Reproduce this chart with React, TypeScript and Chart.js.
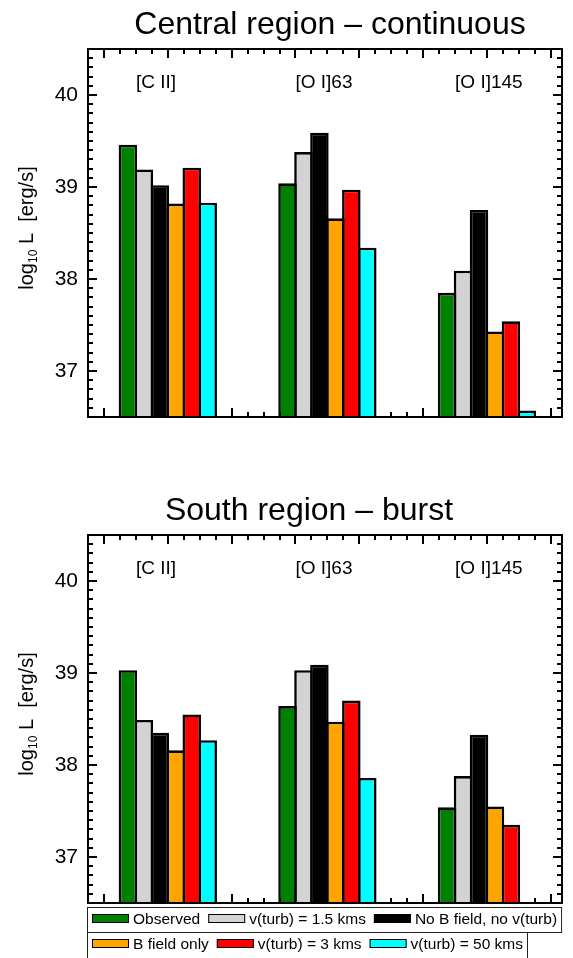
import React, { useEffect, useRef } from 'react';
import { Chart, registerables } from 'chart.js';

Chart.register(...registerables);

// ---------- data ----------
const categories = ['[C II]', '[O I]63', '[O I]145'];
const seriesLabels = [
  'Observed',
  'v(turb) = 1.5 kms',
  'No B field, no v(turb)',
  'B field only',
  'v(turb) = 3 kms',
  'v(turb) = 50 kms',
];
const seriesColors = ['#008000', '#d3d3d3', '#000000', '#ffa500', '#ff0000', '#00ffff'];

// Central region – continuous (log10 L)
const centralObserved = [39.46, 39.04, 37.85];
const centralTurb15 = [39.19, 39.38, 38.09];
const centralNoB = [39.02, 39.59, 38.75];
const centralBOnly = [38.82, 38.66, 37.43];
const centralTurb3 = [39.21, 38.97, 37.54];
const centralTurb50 = [38.83, 38.34, 36.57];

// South region – burst (log10 L)
const southObserved = [39.03, 38.64, 37.54];
const southTurb15 = [38.49, 39.03, 37.88];
const southNoB = [38.35, 39.09, 38.33];
const southBOnly = [38.16, 38.47, 37.55];
const southTurb3 = [38.55, 38.70, 37.35];
const southTurb50 = [38.27, 37.86, null];

const yTickValues = [37, 38, 39, 40];
const yMin = 36.5;
const yMax = 40.5;
const labelLevel = 40.08;

const centralTitle = 'Central region – continuous';
const southTitle = 'South region – burst';

const centralSeries = [centralObserved, centralTurb15, centralNoB, centralBOnly, centralTurb3, centralTurb50];
const southSeries = [southObserved, southTurb15, southNoB, southBOnly, southTurb3, southTurb50];

const FONT = '"Liberation Sans", Arial, Helvetica, sans-serif';

// ---------- plugin drawing the IDL-like frame, ticks, labels, title, legend ----------
const idlPlugin = {
  id: 'idlFrame',
  beforeDatasetsDraw(chart: any) {
    const { ctx, chartArea: a, scales } = chart;
    const x = scales.x;
    const y = scales.y;
    ctx.save();
    ctx.strokeStyle = '#000';
    ctx.lineWidth = 2;
    ctx.beginPath();
    for (let k = 366; k <= 404; k++) {
      const py = Math.round(y.getPixelForValue(k / 10));
      const len = k % 10 === 0 ? 9 : 5;
      ctx.moveTo(a.left, py);
      ctx.lineTo(a.left + len, py);
      ctx.moveTo(a.right, py);
      ctx.lineTo(a.right - len, py);
    }
    for (let k = -4; k <= 24; k++) {
      const px = Math.round(x.getPixelForValue(k / 10));
      const len = k % 4 === 0 ? 9 : 5;
      ctx.moveTo(px, a.top);
      ctx.lineTo(px, a.top + len);
      ctx.moveTo(px, a.bottom);
      ctx.lineTo(px, a.bottom - len);
    }
    ctx.stroke();
    ctx.restore();
  },
  afterDatasetsDraw(chart: any, _args: any, opts: any) {
    const { ctx, chartArea: a, scales } = chart;
    const x = scales.x;
    const y = scales.y;
    ctx.save();
    ctx.strokeStyle = '#000';
    ctx.lineWidth = 2;
    ctx.strokeRect(a.left, a.top, a.right - a.left, a.bottom - a.top);

    ctx.fillStyle = '#000';
    ctx.font = `19px ${FONT}`;
    ctx.textAlign = 'left';
    ctx.textBaseline = 'alphabetic';
    chart.data.labels.forEach((lab: string, i: number) => {
      ctx.fillText(lab, x.getPixelForValue(i - 0.2), y.getPixelForValue(labelLevel));
    });

    ctx.font = `32px ${FONT}`;
    ctx.textAlign = 'center';
    ctx.fillText(opts.title, opts.titleX, 34);

    ctx.save();
    const cy = (a.top + a.bottom) / 2 - 5;
    ctx.translate(33, cy);
    ctx.rotate(-Math.PI / 2);
    ctx.textAlign = 'left';
    const big = `20px ${FONT}`;
    const small = `12px ${FONT}`;
    const p1 = 'log';
    const p2 = '10';
    const p3 = ' L  [erg/s]';
    ctx.font = big;
    const w1 = ctx.measureText(p1).width;
    const w3 = ctx.measureText(p3).width;
    ctx.font = small;
    const w2 = ctx.measureText(p2).width;
    let sx = -(w1 + w2 + w3) / 2;
    ctx.font = big;
    ctx.fillText(p1, sx, 0);
    sx += w1;
    ctx.font = small;
    ctx.fillText(p2, sx, 4);
    sx += w2;
    ctx.font = big;
    ctx.fillText(p3, sx, 0);
    ctx.restore();

    ctx.restore();
  },
  afterDraw(chart: any, _args: any, opts: any) {
    if (!opts.legend) return;
    const { ctx } = chart;
    const ds = chart.data.datasets;
    ctx.save();
    ctx.font = `15.5px ${FONT}`;
    ctx.textAlign = 'left';
    ctx.textBaseline = 'alphabetic';
    const rows = [ds.slice(0, 3), ds.slice(3, 6)];
    const rowTop = [421, 446];
    const rowH = [25, 28];
    rows.forEach((items: any[], r: number) => {
      let cx = 92;
      const top = rowTop[r];
      items.forEach((d: any, i: number) => {
        ctx.fillStyle = d.backgroundColor;
        ctx.fillRect(cx, top + 7, 37, 9);
        ctx.strokeStyle = '#000';
        ctx.lineWidth = 1;
        ctx.strokeRect(cx + 0.5, top + 7.5, 36, 8);
        cx += 41;
        ctx.fillStyle = '#000';
        ctx.fillText(d.label, cx, top + 17);
        cx += ctx.measureText(d.label).width;
        if (i < items.length - 1) cx += 8;
      });
      const right = cx + 4;
      ctx.strokeStyle = '#222';
      ctx.lineWidth = 1;
      ctx.strokeRect(87.5, top + 0.5, right - 87, rowH[r]);
    });
    ctx.restore();
  },
};

function BarPanel(props: { title: string; titleX: number; series: (number | null)[][]; legend: boolean; height: number }) {
  const ref = useRef<HTMLCanvasElement>(null);
  useEffect(() => {
    const canvas = ref.current;
    if (!canvas) return;
    const chart = new Chart(canvas, {
      type: 'bar',
      data: {
        labels: categories,
        datasets: props.series.map((vals, s) => ({
          label: seriesLabels[s],
          data: vals.map((v, i) => ({ x: i, y: v })),
          backgroundColor: seriesColors[s],
          borderColor: '#000',
          borderWidth: 2.6,
          borderSkipped: 'start',
          inflateAmount: 0,
          categoryPercentage: 0.6,
          barPercentage: 1.16,
        })),
      } as any,
      options: {
        animation: false,
        responsive: false,
        devicePixelRatio: 1,
        layout: { padding: { top: 49, right: 11, bottom: props.height - 417, left: 0 } },
        plugins: {
          legend: { display: false },
          title: { display: false },
          tooltip: { enabled: false },
          idlFrame: { title: props.title, titleX: props.titleX, legend: props.legend },
        } as any,
        scales: {
          x: {
            type: 'linear',
            min: -0.5,
            max: 2.47,
            offset: false,
            grid: { offset: false },
            display: false,
            afterBuildTicks: (s: any) => {
              s.ticks = categories.map((_, i) => ({ value: i }));
            },
          },
          y: {
            type: 'linear',
            min: yMin,
            max: yMax,
            grid: { display: false, drawTicks: false },
            border: { display: false },
            ticks: { color: '#000', font: { family: FONT, size: 21 }, padding: 10 },
            afterBuildTicks: (s: any) => {
              s.ticks = yTickValues.map((v) => ({ value: v }));
            },
            afterFit: (s: any) => {
              s.width = 88;
            },
          },
        } as any,
      },
      plugins: [idlPlugin as any],
    });
    return () => chart.destroy();
  }, []);
  return (
    <canvas
      ref={ref}
      width={573}
      height={props.height}
      style={{ display: 'block', width: 573, height: props.height }}
    />
  );
}

export default function App() {
  return (
    <div style={{ position: 'absolute', left: 0, top: 0, width: 573, height: 958, overflow: 'hidden', background: '#fff' }}>
      <BarPanel title={centralTitle} titleX={330} series={centralSeries} legend={false} height={486} />
      <BarPanel title={southTitle} titleX={309} series={southSeries} legend={true} height={472} />
    </div>
  );
}
